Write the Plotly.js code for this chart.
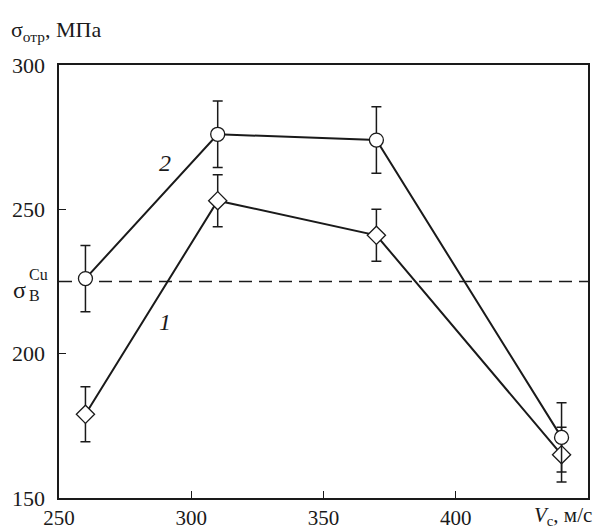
<!DOCTYPE html>
<html>
<head>
<meta charset="utf-8">
<script src="https://cdn.plot.ly/plotly-3.0.1.min.js"></script>
<style>html,body{margin:0;padding:0;background:#fff;}#chart{width:593px;height:531px;}</style>
</head>
<body>
<div id="chart"></div>
<script>
// Data
var velocity = [260, 310, 370, 440];
var series1 = [179, 253, 241, 165];      // curve 1, diamonds
var series1Err = [9.5, 9, 9, 9.5];
var series2 = [226, 276, 274, 171];      // curve 2, circles
var series2Err = [11.5, 11.5, 11.5, 12];
var cuStrength = 225;                    // σB(Cu), dashed line
var xTicks = [250, 300, 350, 400];
var yTicks = [150, 200, 250, 300];

var ink = '#1a1a1a';
var font = "Liberation Serif";

var traces = [
  {
    x: velocity, y: series1, type: 'scatter', mode: 'lines+markers',
    line: {color: ink, width: 2},
    marker: {symbol: 'diamond', size: 14, color: '#fff', line: {color: ink, width: 1.3}},
    error_y: {type: 'data', array: series1Err, visible: true, color: ink, thickness: 1.5, width: 5},
    cliponaxis: false, showlegend: false
  },
  {
    x: velocity, y: series2, type: 'scatter', mode: 'lines+markers',
    line: {color: ink, width: 2},
    marker: {symbol: 'circle', size: 14, color: '#fff', line: {color: ink, width: 1.3}},
    error_y: {type: 'data', array: series2Err, visible: true, color: ink, thickness: 1.5, width: 5},
    cliponaxis: false, showlegend: false
  }
];

var layout = {
  width: 593, height: 531,
  margin: {l: 59, r: 5, t: 65, b: 33},
  paper_bgcolor: '#fff', plot_bgcolor: '#fff',
  font: {family: font, size: 22, color: ink},
  showlegend: false,
  xaxis: {
    range: [250, 450], tickvals: xTicks, ticktext: xTicks.map(String),
    ticks: 'inside', ticklen: 7, tickwidth: 1.3, tickcolor: ink,
    showline: true, linecolor: ink, linewidth: 1.6, mirror: true,
    showgrid: false, zeroline: false, ticklabelstandoff: 0,
    tickfont: {family: font, size: 21, color: ink}
  },
  yaxis: {
    range: [150, 300], tickvals: yTicks, ticktext: yTicks.map(String),
    ticks: 'inside', ticklen: 7, tickwidth: 1.3, tickcolor: ink,
    showline: true, linecolor: ink, linewidth: 1.6, mirror: true,
    showgrid: false, zeroline: false, ticklabelstandoff: 8,
    tickfont: {family: font, size: 22, color: ink}
  },
  shapes: [
    {type: 'line', xref: 'paper', x0: 0, x1: 1, yref: 'y', y0: cuStrength, y1: cuStrength,
     line: {color: ink, width: 1.3, dash: '13px,7px'}, layer: 'below'}
  ],
  annotations: [
    {xref: 'paper', yref: 'paper', x: 0, y: 1, xanchor: 'left', yanchor: 'bottom',
     xshift: -50, yshift: 18, showarrow: false,
     text: 'σ<sub>отр</sub>, МПа', font: {family: font, size: 22, color: ink}},
    {xref: 'paper', yref: 'paper', x: 1, y: 0, xanchor: 'right', yanchor: 'top',
     xshift: 6, yshift: -3, showarrow: false,
     text: '<i>V</i><sub>c</sub>, м/с', font: {family: font, size: 21, color: ink}},
    {xref: 'paper', yref: 'y', x: 0, y: cuStrength, xanchor: 'right', yanchor: 'middle',
     xshift: -31, yshift: -8, showarrow: false,
     text: 'σ', font: {family: font, size: 24, color: ink}},
    {xref: 'paper', yref: 'y', x: 0, y: cuStrength, xanchor: 'left', yanchor: 'middle',
     xshift: -32, yshift: 7, showarrow: false,
     text: 'Cu', font: {family: font, size: 16, color: ink}},
    {xref: 'paper', yref: 'y', x: 0, y: cuStrength, xanchor: 'left', yanchor: 'middle',
     xshift: -32, yshift: -14, showarrow: false,
     text: 'B', font: {family: font, size: 16, color: ink}},
    {xref: 'x', yref: 'y', x: 290, y: 266, showarrow: false,
     text: '<i>2</i>', font: {family: font, size: 24, color: ink}},
    {xref: 'x', yref: 'y', x: 290, y: 211, showarrow: false,
     text: '<i>1</i>', font: {family: font, size: 24, color: ink}}
  ]
};

Plotly.newPlot('chart', traces, layout, {displayModeBar: false, staticPlot: true});
</script>
</body>
</html>
